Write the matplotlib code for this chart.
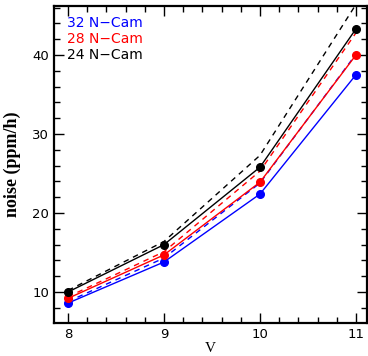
import matplotlib
matplotlib.use("Agg")
import matplotlib.pyplot as plt
from matplotlib.ticker import MultipleLocator

# V magnitudes
v_mag = [8, 9, 10, 11]

# noise (ppm/h), solid lines with points
noise_32 = [8.6, 13.8, 22.4, 37.5]
noise_28 = [9.2, 14.7, 23.9, 40.0]
noise_24 = [10.0, 16.0, 25.8, 43.3]

# dashed companion curves
dash_32 = [8.8, 14.3, 23.8, 40.1]
dash_28 = [9.4, 15.1, 25.3, 42.8]
dash_24 = [10.2, 16.4, 27.3, 46.4]

labels = ["32 N\u2212Cam", "28 N\u2212Cam", "24 N\u2212Cam"]
colors = ["#0000ff", "#ff0000", "#000000"]

fig = plt.figure(figsize=(3.68, 3.56), dpi=100)
ax = fig.add_axes([54 / 368, 33 / 356, 313 / 368, 317 / 356])

for sol, dsh, c in zip([noise_32, noise_28, noise_24], [dash_32, dash_28, dash_24], colors):
    ax.plot(v_mag, dsh, color=c, lw=1.0, ls=(0, (4, 3.5)))
    ax.plot(v_mag, sol, color=c, lw=1.0, marker="o", ms=5.5, mec=c, mfc=c)

ax.set_xlim(7.854, 11.115)
ax.set_ylim(6.08, 46.2)
ax.xaxis.set_major_locator(MultipleLocator(1))
ax.xaxis.set_minor_locator(MultipleLocator(0.2))
ax.yaxis.set_major_locator(MultipleLocator(10))
ax.yaxis.set_minor_locator(MultipleLocator(2))
ax.tick_params(which="both", direction="in", top=True, right=True, width=1, labelsize=9.5)
ax.tick_params(which="major", length=7)
ax.tick_params(which="minor", length=4)
for s in ax.spines.values():
    s.set_linewidth(1.6)

ax.set_xlabel("V", family="Liberation Serif", fontsize=11, labelpad=1)
ax.set_ylabel("noise (ppm/h)", family="Liberation Serif", fontsize=13,
              fontweight="bold", labelpad=8)

for i, (lab, c) in enumerate(zip(labels, colors)):
    ax.text(0.04, 0.945 - i * 0.05, lab, color=c, fontsize=10, transform=ax.transAxes, va="center")

fig.savefig("out.png", dpi=100)
